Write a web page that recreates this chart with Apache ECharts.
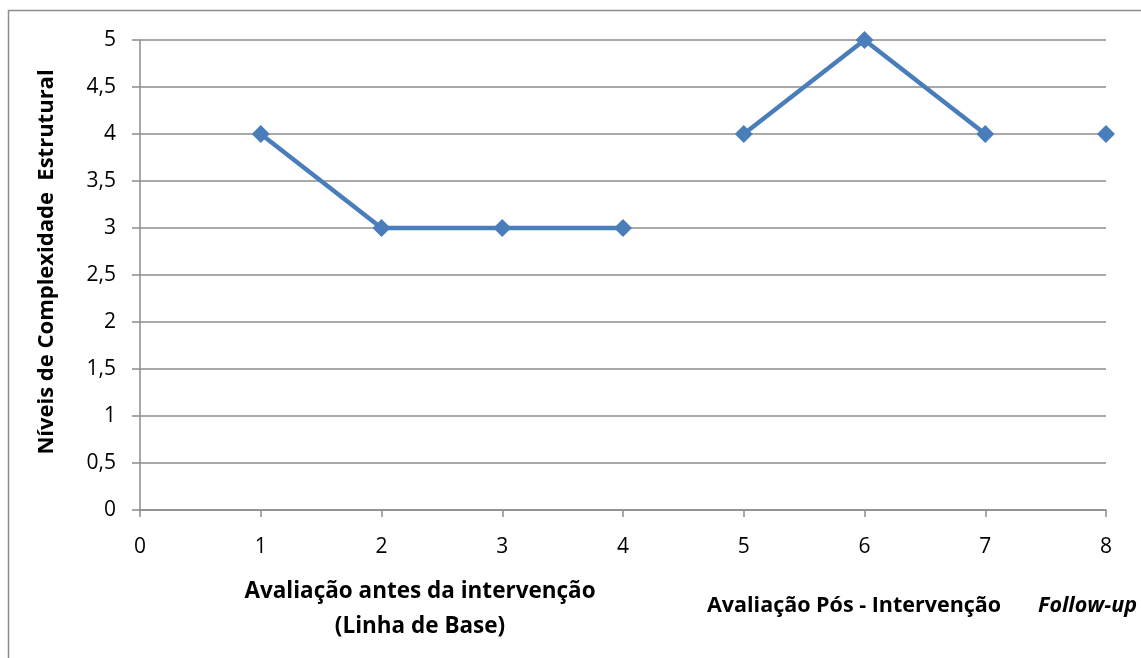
<!DOCTYPE html>
<html>
<head>
<meta charset="utf-8">
<script src="https://cdn.jsdelivr.net/npm/echarts@6/dist/echarts.min.js"></script>
<style>
  html, body { margin: 0; padding: 0; background: #fff; }
  #chart { width: 1141px; height: 658px; }
</style>
</head>
<body>
<div id="chart"></div>
<script>
// Session numbers and structural complexity level per phase
const baselineSessions = [1, 2, 3, 4];
const baselineValues = [4, 3, 3, 3];
const postSessions = [5, 6, 7];
const postValues = [4, 5, 4];
const followUpSessions = [8];
const followUpValues = [4];

const yAxisTitle = 'Níveis de Complexidade  Estrutural';
const baselineTitle = ['Avaliação antes da intervenção', '(Linha de Base)'];
const postTitle = 'Avaliação Pós - Intervenção';
const followUpTitle = 'Follow-up';

const FONT = 'Open Sans';
const LINE_COLOR = '#4a7ebb';
const GRID_COLOR = '#8c8c8c';

function pairs(xs, ys) {
  return xs.map((x, i) => [x, ys[i]]);
}

function phaseSeries(xs, ys) {
  return {
    type: 'line',
    data: pairs(xs, ys),
    symbol: 'diamond',
    symbolSize: 18,
    lineStyle: { color: LINE_COLOR, width: 4.5 },
    itemStyle: { color: LINE_COLOR },
    silent: true,
    animation: false
  };
}

function titleText(text, x, y, extra) {
  return Object.assign({
    type: 'text', x: x, y: y,
    style: Object.assign({
      text: text, verticalAlign: 'middle',
      fontFamily: FONT, fontSize: 21.5, fontWeight: 'bold', fill: '#000'
    }, extra || {})
  });
}

const chart = echarts.init(document.getElementById('chart'), null, { renderer: 'canvas' });
chart.setOption({
  animation: false,
  grid: { left: 140, right: 35, top: 40, bottom: 148 },
  xAxis: {
    type: 'value',
    min: 0, max: 8, interval: 1,
    axisLine: { show: true, lineStyle: { color: GRID_COLOR, width: 1.5 } },
    axisTick: { show: true, length: 7, lineStyle: { color: GRID_COLOR, width: 1.5 } },
    axisLabel: { color: '#000', fontFamily: FONT, fontSize: 21, margin: 27 },
    splitLine: { show: false }
  },
  yAxis: {
    type: 'value',
    min: 0, max: 5, interval: 0.5,
    axisLine: { show: true, onZero: false, lineStyle: { color: GRID_COLOR, width: 1.5 } },
    axisTick: { show: true, inside: false, length: 8, lineStyle: { color: GRID_COLOR, width: 1.5 } },
    axisLabel: {
      color: '#000', fontFamily: FONT, fontSize: 21, margin: 24,
      formatter: v => String(v).replace('.', ',')
    },
    splitLine: { show: true, lineStyle: { color: GRID_COLOR, width: 1.5 } }
  },
  series: [
    phaseSeries(baselineSessions, baselineValues),
    phaseSeries(postSessions, postValues),
    phaseSeries(followUpSessions, followUpValues)
  ],
  graphic: [
    {
      type: 'rect',
      shape: { x: 8.5, y: 10.5, width: 1160, height: 700 },
      style: { fill: null, stroke: '#8c8c8c', lineWidth: 1.5 },
      silent: true
    },
    {
      type: 'text', x: 47, y: 262, rotation: Math.PI / 2,
      style: {
        text: yAxisTitle, align: 'center', verticalAlign: 'middle',
        fontFamily: FONT, fontSize: 22, fontWeight: 'bold', fill: '#000'
      }
    },
    titleText(baselineTitle[0], 420, 592, { align: 'center', fontSize: 22.5 }),
    titleText(baselineTitle[1], 420, 627, { align: 'center', fontSize: 22.5 }),
    titleText(postTitle, 707, 606),
    titleText(followUpTitle, 1038, 606, { fontStyle: 'italic' })
  ]
});
</script>
</body>
</html>
